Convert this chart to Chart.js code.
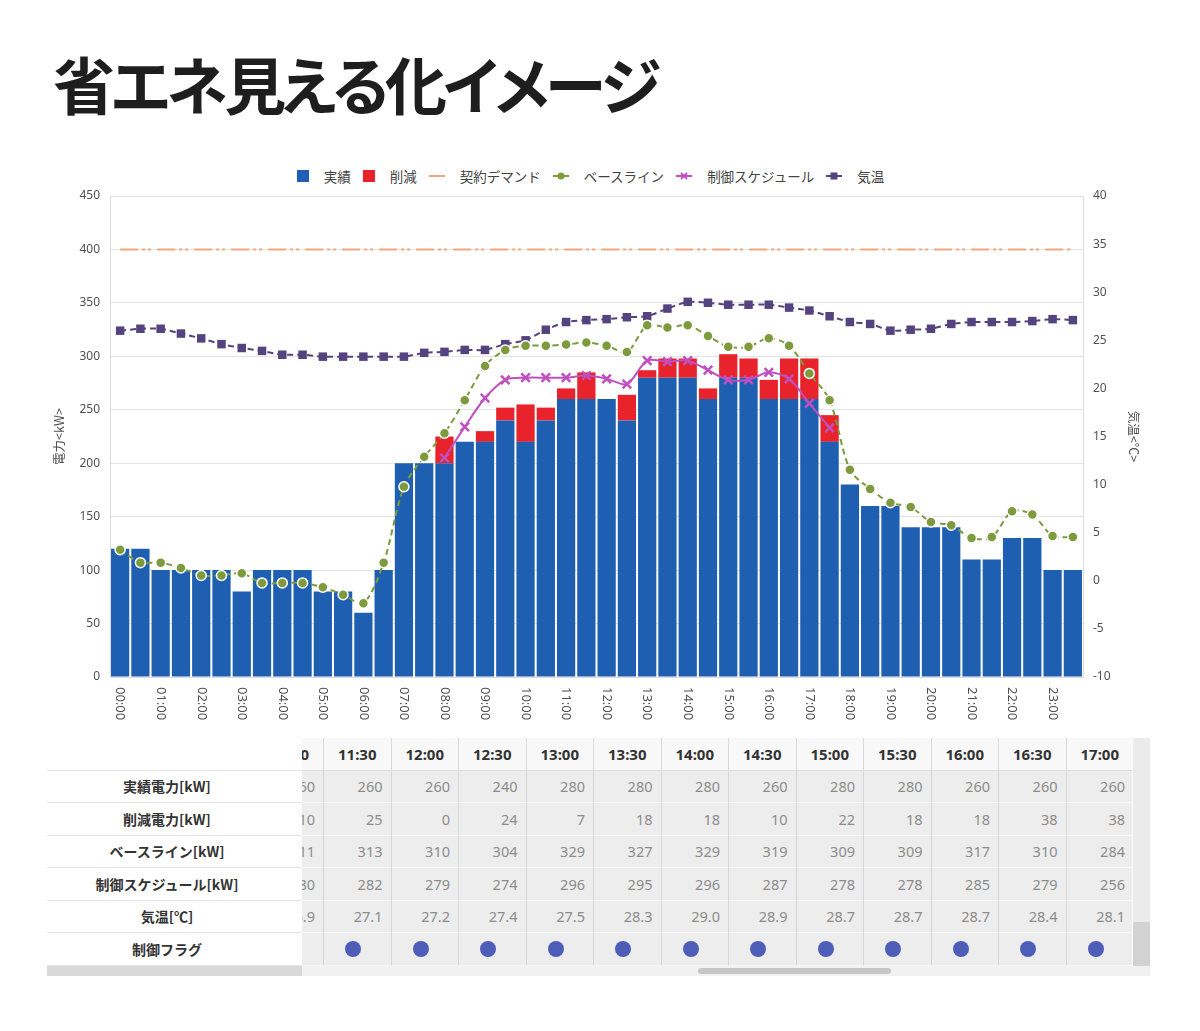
<!DOCTYPE html>
<html lang="ja">
<head>
<meta charset="utf-8">
<script src="https://cdn.jsdelivr.net/npm/chart.js@4.4.1/dist/chart.umd.min.js"></script>
<style>
  body{margin:0;width:1200px;height:1031px;background:#fff;overflow:hidden;position:relative;font-family:"Noto Sans CJK JP","Noto Sans",sans-serif;}
  #title{position:absolute;left:53px;top:52px;font-size:62px;font-weight:700;color:#1e1e1e;line-height:1;white-space:nowrap;font-feature-settings:"palt";letter-spacing:-4px;}
  #legend{position:absolute;top:166px;left:104px;width:973px;height:20px;display:flex;justify-content:center;align-items:center;font-size:13.5px;color:#444;}
  .li{display:flex;align-items:center;margin:0 6px;white-space:nowrap;}
  .li canvas{margin-right:15px;}
  #chartBox{position:absolute;left:0;top:150px;width:1200px;height:580px;}
  .tbl{position:absolute;}
  .cell{position:absolute;box-sizing:border-box;display:flex;align-items:center;}
  .lab{background:#fff;border-bottom:1px solid #e6e6e6;justify-content:center;padding-right:15px;font-weight:700;font-size:14px;color:#333;}
  .hdr{background:#f8f8f8;border-right:1px solid #d8d8d8;border-bottom:1px solid #dedede;justify-content:center;font-family:"Noto Sans","Open Sans",sans-serif;font-weight:700;font-size:15px;color:#333;}
  .val{background:#ededed;border-right:1px solid #d6d6d6;border-bottom:1px solid #f6f6f6;justify-content:flex-end;padding-right:8px;font-family:"Noto Sans","Open Sans",sans-serif;font-size:14.5px;color:#8c8c8c;}
  .flag{justify-content:center;}
  .dot{width:16px;height:16px;border-radius:50%;background:#4d5db8;}
</style>
</head>
<body>
<div id="title">省エネ見える化イメージ</div>
<div id="legend"></div>
<div id="chartBox"><canvas id="c"></canvas></div>
<div id="table"></div>
<script>
// ---------------- data ----------------
const categories = ['00:00','00:30','01:00','01:30','02:00','02:30','03:00','03:30','04:00','04:30','05:00','05:30',
  '06:00','06:30','07:00','07:30','08:00','08:30','09:00','09:30','10:00','10:30','11:00','11:30',
  '12:00','12:30','13:00','13:30','14:00','14:30','15:00','15:30','16:00','16:30','17:00','17:30',
  '18:00','18:30','19:00','19:30','20:00','20:30','21:00','21:30','22:00','22:30','23:00','23:30'];
const hourTickLabels = ['00:00','01:00','02:00','03:00','04:00','05:00','06:00','07:00','08:00','09:00','10:00','11:00',
  '12:00','13:00','14:00','15:00','16:00','17:00','18:00','19:00','20:00','21:00','22:00','23:00'];
const leftTicks = [0,50,100,150,200,250,300,350,400,450];
const rightTicks = [-10,-5,0,5,10,15,20,25,30,35,40];

const actualPower = [120,120,100,100,100,100,80,100,100,100,80,80,60,100,200,200,200,220,220,240,220,240,260,260,
  260,240,280,280,280,260,280,280,260,260,260,220,180,160,160,140,140,140,110,110,130,130,100,100];
const reduction = [0,0,0,0,0,0,0,0,0,0,0,0,0,0,0,0,25,0,10,12,35,12,10,25,
  0,24,7,18,18,10,22,18,18,38,38,25,0,0,0,0,0,0,0,0,0,0,0,0];
const contractDemand = [400,400,400,400,400,400,400,400,400,400,400,400,400,400,400,400,400,400,400,400,400,400,400,400,
  400,400,400,400,400,400,400,400,400,400,400,400,400,400,400,400,400,400,400,400,400,400,400,400];
const baseline = [119,107,107,102,95,95,97,88,88,88,84,77,69,107,178,206,228,259,291,306,310,310,311,313,
  310,304,329,327,329,319,309,309,317,310,284,259,194,176,163,159,145,142,130,131,155,152,132,131];
const schedule = [null,null,null,null,null,null,null,null,null,null,null,null,null,null,null,null,205,234,261,278,280,280,280,282,
  279,274,296,295,296,287,278,278,285,279,256,233,null,null,null,null,null,null,null,null,null,null,null,null];
const temperature = [26.0,26.2,26.2,25.7,25.2,24.6,24.2,23.9,23.5,23.5,23.3,23.3,23.3,23.3,23.3,23.7,23.8,24.0,24.0,24.6,25.0,26.1,26.9,27.1,
  27.2,27.4,27.5,28.3,29.0,28.9,28.7,28.7,28.7,28.4,28.1,27.5,26.9,26.7,26.0,26.1,26.2,26.7,26.9,26.9,26.9,27.0,27.2,27.1];
const controlFlag = [0,0,0,0,0,0,0,0,0,0,0,0,0,0,0,0,1,1,1,1,1,1,1,1,
  1,1,1,1,1,1,1,1,1,1,1,1,0,0,0,0,0,0,0,0,0,0,0,0];
const tableTimes = ['11:00','11:30','12:00','12:30','13:00','13:30','14:00','14:30','15:00','15:30','16:00','16:30','17:00'];
const tableRowLabels = ['実績電力[kW]','削減電力[kW]','ベースライン[kW]','制御スケジュール[kW]','気温[℃]','制御フラグ'];
const legendOrder = ['実績','削減','契約デマンド','ベースライン','制御スケジュール','気温'];

// ---------------- styles ----------------
const C = {
  blue:'#1f5fb2', red:'#e8232b', orange:'#f3a679', green:'#7d9a3c', magenta:'#c04fc0', purple:'#54437e',
  grid:'#e3e3e3', border:'#dcdcdc', tick:'#505050'
};

const hourTickPlugin = {
  id:'hourTicks',
  afterDraw(chart){
    const {ctx, scales:{x}} = chart;
    ctx.save();
    ctx.font = '13px "Noto Sans", sans-serif';
    ctx.fillStyle = C.tick;
    ctx.textAlign = 'left';
    ctx.textBaseline = 'middle';
    categories.forEach((lab, i) => {
      if (!hourTickLabels.includes(lab)) return;
      const px = x.getPixelForValue(i);
      ctx.save();
      ctx.translate(px, x.top + 10);
      ctx.rotate(Math.PI / 2);
      ctx.fillText(lab, 0, 0);
      ctx.restore();
    });
    ctx.restore();
  }
};

const chart = new Chart(document.getElementById('c'), {
  data: {
    labels: categories,
    datasets: [
      {type:'line', label:'契約デマンド', data:contractDemand, yAxisID:'y', stack:'s_demand', order:3,
        borderColor:C.orange, backgroundColor:C.orange, borderWidth:2, borderDash:[18,4,3,3,3,6], pointRadius:0},
      {type:'line', label:'ベースライン', data:baseline, yAxisID:'y', stack:'s_base', order:1,
        borderColor:C.green, backgroundColor:C.green, borderWidth:2, borderDash:[6,4], tension:0.3,
        pointStyle:'circle', pointRadius:5, pointBackgroundColor:C.green, pointBorderColor:'#ffffff', pointBorderWidth:1.5},
      {type:'line', label:'制御スケジュール', data:schedule, yAxisID:'y', stack:'s_sched', order:0,
        borderColor:C.magenta, backgroundColor:C.magenta, borderWidth:2, tension:0.3, spanGaps:false,
        pointStyle:'crossRot', pointRadius:6, pointBorderColor:C.magenta, pointBorderWidth:2.5},
      {type:'line', label:'気温', data:temperature, yAxisID:'y1', order:2,
        borderColor:C.purple, backgroundColor:C.purple, borderWidth:2, borderDash:[6,4], tension:0.2,
        pointStyle:'rect', pointRadius:6, pointBackgroundColor:C.purple, pointBorderColor:C.purple, pointBorderWidth:0},
      {type:'bar', label:'実績', data:actualPower, yAxisID:'y', stack:'power', order:5,
        backgroundColor:C.blue, barPercentage:0.9, categoryPercentage:1.0},
      {type:'bar', label:'削減', data:reduction, yAxisID:'y', stack:'power', order:5,
        backgroundColor:C.red, barPercentage:0.9, categoryPercentage:1.0}
    ]
  },
  options: {
    responsive:true, maintainAspectRatio:false, animation:false,
    layout:{padding:{left:48, right:55, top:46, bottom:0}},
    plugins:{legend:{display:false}, tooltip:{enabled:false}, title:{display:false}},
    scales:{
      x:{type:'category', offset:true, stacked:true,
        grid:{display:false, drawTicks:false}, border:{display:true, color:C.border},
        ticks:{display:false}, afterFit(s){ s.height = 53; }},
      y:{position:'left', stacked:true, min:0, max:450,
        afterBuildTicks(s){ s.ticks = leftTicks.map(v => ({value:v})); },
        ticks:{color:C.tick, font:{size:12, family:'"Noto Sans", sans-serif'}, padding:10},
        grid:{color:C.grid, drawTicks:false}, border:{display:true, color:C.border},
        title:{display:true, text:'電力<kW>', color:C.tick, font:{size:12.5, family:'"Noto Sans CJK JP", sans-serif'}},
        afterFit(s){ s.width = 62; }},
      y1:{position:'right', min:-10, max:40,
        afterBuildTicks(s){ s.ticks = rightTicks.map(v => ({value:v})); },
        ticks:{color:C.tick, font:{size:12, family:'"Noto Sans", sans-serif'}, padding:10},
        grid:{display:false, drawTicks:false}, border:{display:true, color:C.border},
        title:{display:true, text:'気温<℃>', color:C.tick, font:{size:12.5, family:'"Noto Sans CJK JP", sans-serif'}},
        afterFit(s){ s.width = 62; }}
    }
  },
  plugins:[hourTickPlugin]
});

// ---------------- legend (HTML) ----------------
function makeIcon(ds){
  const cv = document.createElement('canvas');
  const isBar = ds.type === 'bar';
  cv.width = isBar ? 12 : 16; cv.height = 12;
  const g = cv.getContext('2d');
  if (isBar){ g.fillStyle = ds.backgroundColor; g.fillRect(0,0,12,12); }
  else {
    g.strokeStyle = ds.borderColor; g.lineWidth = 2;
    g.beginPath(); g.moveTo(0,6); g.lineTo(16,6); g.stroke();
    g.fillStyle = ds.borderColor;
    if (ds.pointStyle === 'circle'){ g.beginPath(); g.arc(8,6,3.5,0,Math.PI*2); g.fill(); }
    else if (ds.pointStyle === 'rect'){ g.fillRect(4.5,2.5,7,7); }
    else if (ds.pointStyle === 'crossRot'){ g.lineWidth=1.8; g.beginPath(); g.moveTo(5,3); g.lineTo(11,9); g.moveTo(11,3); g.lineTo(5,9); g.stroke(); }
  }
  return cv;
}
const legendEl = document.getElementById('legend');
legendOrder.forEach(name => {
  const ds = chart.data.datasets.find(d => d.label === name);
  const item = document.createElement('div'); item.className = 'li';
  item.appendChild(makeIcon(ds));
  const t = document.createElement('span'); t.textContent = name; item.appendChild(t);
  legendEl.appendChild(item);
});

// ---------------- data table (HTML) ----------------
const T = {top:738, rowH:32.5, labL:47, labW:255, viewL:302, viewW:830, colW:67.5, shift:45.5};
const tbl = document.getElementById('table');
function div(cls, css, txt){ const d=document.createElement('div'); d.className=cls; Object.assign(d.style, css); if(txt!==undefined) d.textContent=txt; return d; }
// label column
tbl.appendChild(div('cell lab', {left:T.labL+'px', top:T.top+'px', width:T.labW+'px', height:T.rowH+'px'}));
tableRowLabels.forEach((lab, r) => {
  tbl.appendChild(div('cell lab', {left:T.labL+'px', top:(T.top+T.rowH*(r+1))+'px', width:T.labW+'px', height:T.rowH+'px'}, lab));
});
// data viewport
const view = div('tbl', {left:T.viewL+'px', top:T.top+'px', width:T.viewW+'px', height:(T.rowH*7)+'px', overflow:'hidden'});
tbl.appendChild(view);
const rows = [actualPower, reduction, baseline, schedule, temperature];
tableTimes.forEach((tm, c) => {
  const idx = categories.indexOf(tm);
  const left = (c*T.colW - T.shift)+'px';
  view.appendChild(div('cell hdr', {left, top:'0px', width:T.colW+'px', height:T.rowH+'px'}, tm));
  rows.forEach((arr, r) => {
    const v = arr[idx];
    const txt = (arr === temperature) ? v.toFixed(1) : String(v);
    view.appendChild(div('cell val', {left, top:(T.rowH*(r+1))+'px', width:T.colW+'px', height:T.rowH+'px'}, txt));
  });
  const f = div('cell val flag', {left, top:(T.rowH*6)+'px', width:T.colW+'px', height:T.rowH+'px'});
  if (controlFlag[idx]) f.appendChild(div('dot', {}));
  view.appendChild(f);
});
// scrollbars
tbl.appendChild(div('tbl', {left:'1133px', top:T.top+'px', width:'17px', height:'184px', background:'#ebebeb'}));
tbl.appendChild(div('tbl', {left:'1133px', top:(T.top+184)+'px', width:'17px', height:'46px', background:'#d2d2d2'}));
tbl.appendChild(div('tbl', {left:T.labL+'px', top:'966px', width:T.labW+'px', height:'10px', background:'#d9d9d9'}));
tbl.appendChild(div('tbl', {left:T.viewL+'px', top:'966px', width:'848px', height:'10px', background:'#f1f1f1'}));
tbl.appendChild(div('tbl', {left:'698px', top:'968px', width:'193px', height:'6px', background:'#c6c6c6', borderRadius:'3px'}));
</script>
</body>
</html>
